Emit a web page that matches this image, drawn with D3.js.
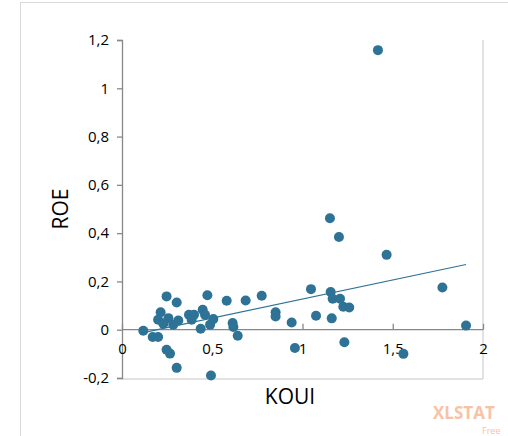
<!DOCTYPE html>
<html><head><meta charset="utf-8">
<script src="https://cdn.jsdelivr.net/npm/d3@7"></script>
<style>body{margin:0;background:#fff}</style>
</head><body><div id="chart"></div>
<script>
const koui = [0.118,0.17,0.20,0.247,0.214,0.20,0.229,0.257,0.284,0.312,0.303,0.247,0.266,0.303,0.371,0.399,0.386,0.473,0.447,0.46,0.436,0.488,0.506,0.493,0.58,0.613,0.617,0.641,0.685,0.774,0.851,0.851,0.94,0.958,1.152,1.202,1.466,1.047,1.156,1.167,1.208,1.226,1.259,1.075,1.162,1.232,1.559,1.775,1.906,1.418];
const roe = [-0.004,-0.03,-0.03,0.138,0.072,0.041,0.025,0.048,0.021,0.038,0.113,-0.083,-0.099,-0.158,0.062,0.062,0.041,0.143,0.083,0.062,0.004,0.021,0.044,-0.19,0.12,0.028,0.011,-0.025,0.121,0.141,0.072,0.055,0.030,-0.076,0.462,0.384,0.31,0.168,0.156,0.128,0.128,0.095,0.092,0.058,0.047,-0.052,-0.10,0.175,0.017,1.158];
const xTicks = [0,0.5,1,1.5,2];
const yTicks = [-0.2,0,0.2,0.4,0.6,0.8,1,1.2];
const trendX = [0.118,1.906];
const trendA = -0.031, trendB = 0.158;

const fmt = d => String(d).replace(".", ",");
const svg = d3.select("#chart").append("svg").attr("width",508).attr("height",436)
  .style("font-family","'Open Sans', sans-serif");
svg.append("rect").attr("x",20.5).attr("y",2.5).attr("width",520).attr("height",500)
  .attr("fill","none").attr("stroke","#d9d9d9");

const x = d3.scaleLinear().domain([0,2]).range([122,483]);
const y = d3.scaleLinear().domain([-0.2,1.2]).range([378,40]);

svg.append("line").attr("x1",x(2)).attr("x2",x(2)).attr("y1",y(1.2)).attr("y2",y(-0.2)+1).attr("stroke","#d9d9d9").attr("stroke-width",1.5);
svg.append("line").attr("x1",x(0)).attr("x2",x(2)).attr("y1",y(-0.2)+1).attr("y2",y(-0.2)+1).attr("stroke","#d9d9d9").attr("stroke-width",1.5);

const ya = svg.append("g").attr("transform",`translate(${x(0)},0)`)
  .call(d3.axisLeft(y).tickValues(yTicks).tickFormat(fmt).tickSize(5).tickPadding(8));
const xa = svg.append("g").attr("transform",`translate(0,${y(0)})`)
  .call(d3.axisBottom(x).tickValues(xTicks).tickFormat(fmt).tickSize(-6).tickPadding(14));
[ya,xa].forEach(a=>{
  a.selectAll("path,line").attr("stroke","#888").attr("stroke-width",1.3);
  a.selectAll("text").attr("font-size",15).attr("fill","#000").attr("font-family","'Open Sans', sans-serif");
});
xa.select(".domain").attr("d",`M${x(0)},0H${x(2)}`);

svg.append("line")
  .attr("x1",x(trendX[0])).attr("y1",y(trendA+trendB*trendX[0]))
  .attr("x2",x(trendX[1])).attr("y2",y(trendA+trendB*trendX[1]))
  .attr("stroke","#2e7396").attr("stroke-width",1.2);

svg.append("g").selectAll("circle").data(koui).join("circle")
  .attr("cx",d=>x(d)).attr("cy",(d,i)=>y(roe[i])).attr("r",5).attr("fill","#2e7396");

svg.append("text").attr("transform","translate(68,209) rotate(-90)").attr("text-anchor","middle")
  .attr("font-size",21).text("ROE");
svg.append("text").attr("x",290).attr("y",404).attr("text-anchor","middle")
  .attr("font-size",21).text("KOUI");
svg.append("text").attr("x",433).attr("y",419).attr("font-size",17).attr("font-weight","bold")
  .attr("fill","#f9c2a5").text("XLSTAT");
svg.append("text").attr("x",482).attr("y",434).attr("font-size",9)
  .attr("fill","#f9c2a5").text("Free");
</script></body></html>
